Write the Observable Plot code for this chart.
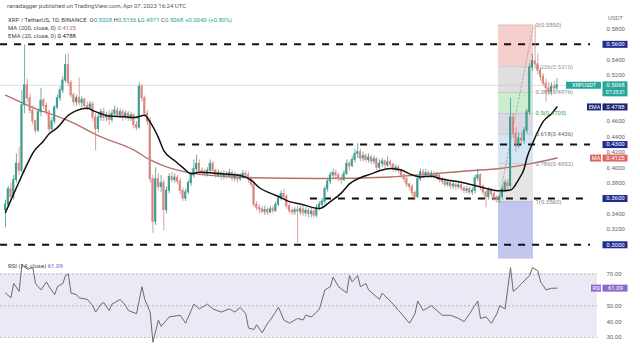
<!DOCTYPE html>
<html><head><meta charset="utf-8">
<script src="https://cdn.jsdelivr.net/npm/d3@7"></script>
<script src="https://cdn.jsdelivr.net/npm/@observablehq/plot@0.6"></script>
<style>
html,body{margin:0;padding:0;background:#fff;}
#wrap{position:relative;width:640px;height:344px;overflow:hidden;font-family:Roboto,"Noto Sans",sans-serif;}
#main,#rsi{position:absolute;left:0;}
#main{top:0;} #rsi{top:259px;}
.t{position:absolute;font-size:6px;line-height:7px;color:#444;white-space:nowrap;}
.g{color:#26a69a}.m{color:#b5655f}.e{color:#222}.p{color:#7e57c2}
</style></head><body>
<div id="wrap">
<div id="main"></div><div id="rsi"></div>
<div class="t" style="left:7px;top:2px;color:#555">ranadagger published on TradingView.com, Apr 07, 2023 16:24 UTC</div>
<div class="t" id="h1" style="left:8px;top:16px;"></div>
<div class="t" id="h2" style="left:8px;top:24px;"></div>
<div class="t" id="h3" style="left:8px;top:32px;"></div>
<div class="t" style="left:608px;top:14px;color:#777">USDT</div>
<div class="t" id="h4" style="left:8px;top:262px;"></div>
</div>
<script>
// ---- daily candles (index 0 = oldest) ----
const open = [
.345,.352,.372,.362,.384,.405,.396,.481,.507,.490,
.474,.460,.448,.472,.487,.480,.472,.450,.460,.478,
.490,.500,.513,.533,.510,.494,.485,.490,.484,.488,
.480,.478,.482,.465,.450,.465,.472,.465,.468,.462,
.470,.474,.468,.472,.466,.470,.464,.468,.455,.452,
.505,.490,.470,.460,.385,.330,.385,.375,.380,.345,
.370,.388,.384,.387,.382,.370,.360,.368,.380,.390,
.398,.405,.396,.394,.392,.396,.405,.396,.390,.393,
.388,.392,.389,.393,.386,.390,.385,.388,.392,.390,
.385,.378,.352,.348,.346,.343,.345,.342,.346,.344,
.352,.360,.366,.362,.350,.344,.342,.345,.343,.346,
.341,.344,.340,.343,.338,.348,.352,.356,.372,.382,
.390,.393,.390,.386,.384,.392,.405,.402,.410,.418,
.420,.412,.415,.410,.413,.408,.411,.400,.405,.408,
.403,.407,.404,.398,.400,.396,.390,.385,.378,.375,
.367,.362,.385,.394,.390,.393,.390,.392,.389,.390,
.384,.382,.378,.380,.376,.378,.375,.377,.373,.370,
.372,.368,.370,.386,.390,.375,.368,.362,.370,.366,
.360,.358,.362,.372,.380,.376,.465,.444,.430,.438,
.435,.448,.472,.530,.538,.534,.526,.518,.509,.503,
.498,.505,.5028];
const high = [
.358,.376,.380,.390,.418,.426,.500,.559,.515,.496,
.480,.462,.476,.503,.490,.484,.475,.465,.480,.494,
.505,.518,.546,.548,.513,.497,.494,.516,.492,.490,
.485,.486,.485,.470,.470,.476,.477,.472,.474,.475,
.480,.478,.476,.475,.474,.473,.472,.470,.460,.510,
.508,.493,.474,.465,.390,.400,.392,.390,.384,.375,
.392,.394,.392,.390,.386,.374,.372,.384,.394,.410,
.416,.410,.400,.398,.400,.410,.408,.398,.397,.396,
.396,.395,.398,.396,.394,.392,.392,.396,.396,.394,
.388,.380,.356,.352,.350,.350,.348,.350,.350,.356,
.364,.370,.372,.365,.353,.348,.348,.350,.350,.350,
.348,.347,.347,.346,.352,.356,.360,.376,.386,.394,
.398,.397,.393,.390,.396,.410,.408,.415,.424,.431,
.424,.420,.418,.418,.416,.415,.413,.410,.412,.410,
.414,.410,.406,.404,.403,.398,.392,.388,.380,.378,
.370,.390,.398,.398,.398,.396,.396,.395,.394,.392,
.387,.386,.384,.383,.382,.380,.382,.380,.376,.376,
.375,.374,.390,.398,.392,.378,.370,.374,.373,.370,
.364,.366,.376,.384,.385,.490,.470,.452,.445,.445,
.452,.476,.535,.547,.585,.548,.530,.522,.515,.510,
.510,.512,.5156];
const low = [
.322,.348,.357,.358,.380,.390,.392,.470,.484,.470,
.455,.444,.446,.466,.476,.468,.445,.447,.456,.475,
.486,.496,.510,.505,.490,.480,.480,.480,.478,.476,
.474,.475,.460,.422,.445,.460,.460,.460,.455,.458,
.466,.465,.464,.460,.462,.460,.460,.450,.448,.450,
.485,.465,.455,.380,.315,.325,.370,.368,.318,.340,
.366,.380,.380,.378,.365,.356,.356,.365,.376,.386,
.394,.392,.390,.388,.388,.393,.392,.386,.387,.384,
.384,.385,.386,.382,.382,.380,.382,.385,.386,.380,
.374,.348,.344,.340,.340,.338,.338,.340,.340,.342,
.350,.357,.358,.346,.340,.338,.338,.302,.338,.337,
.336,.335,.335,.334,.335,.344,.348,.352,.368,.378,
.386,.385,.382,.378,.382,.390,.396,.400,.406,.412,
.408,.408,.406,.406,.404,.404,.396,.397,.400,.398,
.400,.400,.394,.394,.392,.386,.380,.374,.370,.362,
.358,.360,.382,.386,.388,.386,.386,.385,.384,.380,
.378,.374,.375,.372,.372,.370,.372,.370,.366,.366,
.365,.364,.366,.382,.370,.364,.348,.358,.362,.356,
.354,.354,.358,.368,.372,.372,.438,.420,.425,.428,
.430,.444,.468,.525,.528,.520,.512,.505,.485,.494,
.494,.498,.4971];
const close = [
.352,.372,.362,.384,.405,.396,.481,.507,.490,.474,
.460,.448,.472,.487,.480,.472,.450,.460,.478,.490,
.500,.513,.533,.510,.494,.485,.490,.484,.488,.480,
.478,.482,.465,.450,.465,.472,.465,.468,.462,.470,
.474,.468,.472,.466,.470,.464,.468,.455,.452,.505,
.490,.470,.460,.385,.330,.385,.375,.380,.345,.370,
.388,.384,.387,.382,.370,.360,.368,.380,.390,.398,
.405,.396,.394,.392,.396,.405,.396,.390,.393,.388,
.392,.389,.393,.386,.390,.385,.388,.392,.390,.385,
.378,.352,.348,.346,.343,.345,.342,.346,.344,.352,
.360,.366,.362,.350,.344,.342,.345,.343,.346,.341,
.344,.340,.343,.338,.348,.352,.356,.372,.382,.390,
.393,.390,.386,.384,.392,.405,.402,.410,.418,.420,
.412,.415,.410,.413,.408,.411,.400,.405,.408,.403,
.407,.404,.398,.400,.396,.390,.385,.378,.375,.367,
.362,.385,.394,.390,.393,.390,.392,.389,.390,.384,
.382,.378,.380,.376,.378,.375,.377,.373,.370,.372,
.368,.370,.386,.390,.375,.368,.362,.370,.366,.360,
.358,.362,.372,.380,.376,.465,.444,.430,.438,.435,
.448,.472,.530,.538,.534,.526,.518,.509,.503,.498,
.505,.5028,.5068];

// ---- indicators (candle index, value) ----
const emaIdx = [0,4,8,10,14,16,19,23,26,30,32,35,38,44,47,51,53,56,58,62,65,68,71,79,86,90,93,97,101,104,108,115,119,123,126,130,134,137,141,145,148,152,156,159,167,174,181,185,188,190,191,193,195,197,200,202];
const emaVal = [.342,.374,.405,.419,.435,.444,.452,.468,.474,.477,.474,.470,.467,.466,.465,.468,.459,.439,.422,.409,.400,.392,.394,.392,.390,.384,.374,.367,.361,.356,.353,.347,.356,.367,.379,.387,.392,.396,.399,.397,.392,.388,.389,.386,.381,.375,.370,.371,.385,.399,.413,.431,.447,.460,.470,.4788];
const maIdx = [0,10,23,35,47,53,59,68,75,90,115,141,156,170,181,192,202];
const maVal = [.494,.478,.461,.440,.423,.410,.401,.393,.390,.387,.386,.388,.392,.396,.399,.405,.4125];
const rsiIdx = [0,2,3,5,6,8,10,11,13,15,16,18,19,21,22,23,24,26,27,30,32,33,35,36,38,39,42,44,45,48,50,51,53,54,56,57,59,60,64,66,69,71,74,76,79,82,84,86,88,89,91,92,94,96,97,100,102,104,107,109,110,112,114,115,117,119,120,122,125,126,127,129,130,132,133,137,138,142,144,145,148,150,151,153,156,160,163,166,168,170,173,174,176,178,180,181,183,185,186,188,189,192,193,195,196,198,200,202];
const rsiVal = [58,55,64,59,76,73,74,64,60,65,62,57,62,64,69,70,58,57,55,54,50,46,51,52,47,51,54,50,47,45,62,54,46,27,41,37,41,43,44,39,51,48,51,48,46,48,46,49,45,36,35,38,33,39,41,49,41,39,42,41,44,43,46,48,60,62,68,62,58,69,65,69,62,64,60,54,58,51,47,45,39,45,53,47,50,44,44,42,40,45,53,42,43,39,45,50,48,74,59,62,64,69,74,72,65,60,61,61.09];

// ---- drawings ----
const hlineVal = [0.56, 0.43, 0.36, 0.30];
const hlineStart = [-1.8, 63.4, 111.7, -1.8];
const hlineEnd = 214.3;
const fibRatio = [0, 0.236, 0.382, 0.5, 0.618, 0.786, 1];
const fibPrice = [0.5850, 0.5310, 0.4976, 0.4705, 0.4436, 0.4052, 0.3560];
const fibFloor = 0.2815;   // 1.618 zone, cut off by the panel edge
const fibFrom = 180.6, fibTo = 193.4;
const fibFill = ["#f5c5c2","#d9d9d9","#c4eac7","#d4d1e1","#cce2f3","#e1e1e1","#b7bcec"];
const fibText = ["#888","#999","#888","#43a047","#666","#888","#888"];
// visible price-scale ticks (the others sit under the coloured value labels)
const yTicks = [0.32,0.34,0.38,0.40,0.42,0.44,0.46,0.52,0.54,0.58];
const rsiTicks = [30,40,50,70];

const GREEN = "#3f9d8f", RED = "#d98580";
const N = close.length;
const candles = d3.range(N).map(i => ({i, o: open[i], h: high[i], l: low[i], c: close[i]}));
const col = d => d.c >= d.o ? GREEN : RED;
const ema = emaIdx.map((x, k) => ({x, y: emaVal[k]}));
const ma = maIdx.map((x, k) => ({x, y: maVal[k]}));
const rsi = rsiIdx.map((x, k) => ({x, y: rsiVal[k]}));
const last = candles[N - 1], prev = candles[N - 2];
const emaLast = emaVal[emaVal.length - 1], maLast = maVal[maVal.length - 1], rsiLast = rsiVal[rsiVal.length - 1];

const xDomain = [-5 / 2.73, (597 - 5) / 2.73];
const ix = p => xDomain[0] + p / 597 * (xDomain[1] - xDomain[0]);
const bL = ix(602.5), bR = ix(627.5), bC = ix(615);
const font = "Roboto, 'Noto Sans', sans-serif";
const zones = fibPrice.map((p, k) => ({y1: p, y2: k < fibPrice.length - 1 ? fibPrice[k + 1] : fibFloor, fill: fibFill[k]}));
const f4 = d3.format(".4f");
const id = d => d;

const main = Plot.plot({
  width: 640, height: 259, marginLeft: 0, marginRight: 43, marginTop: 13, marginBottom: 7,
  style: {fontSize: "6px", fontFamily: font, color: "#666", background: "transparent"},
  x: {domain: xDomain, axis: null},
  y: {domain: [0.29, 0.60], axis: "right", ticks: yTicks, tickFormat: f4, tickSize: 0, tickPadding: 9, label: null},
  marks: [
    Plot.rect(zones, {x1: fibFrom, x2: fibTo, y1: "y1", y2: "y2", fill: d => d.fill, fillOpacity: 0.85}),
    Plot.ruleY(fibPrice, {y: id, x1: fibFrom, x2: fibTo, stroke: "#999", strokeWidth: 0.5, strokeOpacity: 0.7}),
    Plot.ruleY([last.c], {y: id, stroke: "#c8c8c8", strokeWidth: 0.6}),
    Plot.ruleY(hlineVal, {y: id, x1: (d, k) => hlineStart[k], x2: hlineEnd, stroke: "#111", strokeWidth: 2, strokeDasharray: "7,7"}),
    Plot.line([{x: fibFrom, y: fibPrice[6]}, {x: fibTo, y: fibPrice[0]}], {x: "x", y: "y", stroke: "#999", strokeWidth: 0.7, strokeDasharray: "2,2"}),
    Plot.line(ma, {x: "x", y: "y", stroke: "#b5706a", strokeWidth: 1.4, curve: "monotone-x"}),
    Plot.ruleX(candles, {x: "i", y1: "l", y2: "h", stroke: col, strokeWidth: 0.8}),
    Plot.rect(candles, {x1: d => d.i - 0.38, x2: d => d.i + 0.38, y1: d => Math.min(d.o, d.c), y2: d => Math.max(d.o, d.c), fill: col, insetTop: -0.5, insetBottom: -0.5}),
    Plot.line(ema, {x: "x", y: "y", stroke: "#111", strokeWidth: 1.5, curve: "monotone-x"}),
    Plot.text(fibPrice, {x: fibTo, y: id, dx: 2, text: (d, k) => `${fibRatio[k]}(${f4(d)})`, fill: (d, k) => fibText[k], textAnchor: "start", fontSize: 6}),
    // price-scale labels
    Plot.ruleY(hlineVal, {y: id, x1: bL, x2: bR, stroke: "#1f2b8f", strokeWidth: 7}),
    Plot.text(hlineVal, {y: id, x: bC, text: d => f4(d), fill: "#fff", fontSize: 6}),
    Plot.ruleY([last.c], {y: id, x1: bL, x2: bR, stroke: "#26a69a", strokeWidth: 15, dy: 3.5}),
    Plot.ruleY([last.c], {y: id, x1: ix(566), x2: ix(601), stroke: "#26a69a", strokeWidth: 7}),
    Plot.text([last.c], {y: id, x: bC, text: d => f4(d), fill: "#fff", fontSize: 6, dy: -0.5}),
    Plot.text([last.c], {y: id, x: bC, text: () => "07:35:01", dy: 7, fill: "#fff", fontSize: 5}),
    Plot.text([last.c], {y: id, x: ix(583.5), text: () => "XRPUSDT", fill: "#fff", fontSize: 5.5}),
    Plot.ruleY([emaLast], {y: id, x1: bL, x2: bR, stroke: "#1b2470", strokeWidth: 7}),
    Plot.ruleY([emaLast], {y: id, x1: ix(587), x2: ix(601), stroke: "#1b2470", strokeWidth: 7}),
    Plot.text([emaLast], {y: id, x: bC, text: d => f4(d), fill: "#fff", fontSize: 6}),
    Plot.text([emaLast], {y: id, x: ix(594), text: () => "EMA", fill: "#fff", fontSize: 5.5}),
    Plot.ruleY([maLast], {y: id, x1: bL, x2: bR, stroke: "#e0645c", strokeWidth: 7}),
    Plot.ruleY([maLast], {y: id, x1: ix(590), x2: ix(601), stroke: "#e0645c", strokeWidth: 7}),
    Plot.text([maLast], {y: id, x: bC, text: d => f4(d), fill: "#fff", fontSize: 6}),
    Plot.text([maLast], {y: id, x: ix(595.5), text: () => "MA", fill: "#fff", fontSize: 5.5})
  ]
});
document.getElementById("main").append(main);

const rsiPlot = Plot.plot({
  width: 640, height: 85, marginLeft: 0, marginRight: 43, marginTop: 0, marginBottom: 0,
  style: {fontSize: "6px", fontFamily: font, color: "#666", background: "transparent"},
  x: {domain: xDomain, axis: null},
  y: {domain: [25.59, 79.13], axis: "right", ticks: rsiTicks, tickFormat: ".2f", tickSize: 0, tickPadding: 9, label: null},
  marks: [
    Plot.rect([0], {x1: xDomain[0], x2: xDomain[1], y1: 30, y2: 70, fill: "#ede8f6"}),
    Plot.ruleY([70, 50, 30], {y: id, stroke: "#9e9e9e", strokeWidth: 0.7, strokeDasharray: "2,2"}),
    Plot.line(rsi, {x: "x", y: "y", stroke: "#6a6a6a", strokeWidth: 1}),
    Plot.ruleY([rsiLast], {y: id, x1: bL, x2: bR, stroke: "#8a6bc9", strokeWidth: 7}),
    Plot.ruleY([rsiLast], {y: id, x1: ix(591), x2: ix(601), stroke: "#8a6bc9", strokeWidth: 7}),
    Plot.text([rsiLast], {y: id, x: bC, text: d => d3.format(".2f")(d), fill: "#fff", fontSize: 6}),
    Plot.text([rsiLast], {y: id, x: ix(596), text: () => "RSI", fill: "#fff", fontSize: 5.5})
  ]
});
document.getElementById("rsi").append(rsiPlot);

// header legends
const chg = last.c - prev.c;
document.getElementById("h1").innerHTML =
  `XRP / TetherUS, 1D, BINANCE&nbsp; O<span class="g">${f4(last.o)}</span> H<span class="g">${f4(last.h)}</span> L<span class="g">${f4(last.l)}</span> C<span class="g">${f4(last.c)}</span> <span class="g">${chg >= 0 ? "+" : ""}${f4(chg)} (${chg >= 0 ? "+" : ""}${d3.format(".2f")(chg / prev.c * 100)}%)</span>`;
document.getElementById("h2").innerHTML = `MA (200, close, 0) <span class="m">${f4(maLast)}</span>`;
document.getElementById("h3").innerHTML = `EMA (20, close, 0) <span class="e">${f4(emaLast)}</span>`;
document.getElementById("h4").innerHTML = `RSI (14, close) <span class="p">${d3.format(".2f")(rsiLast)}</span>`;
</script>
</body></html>
